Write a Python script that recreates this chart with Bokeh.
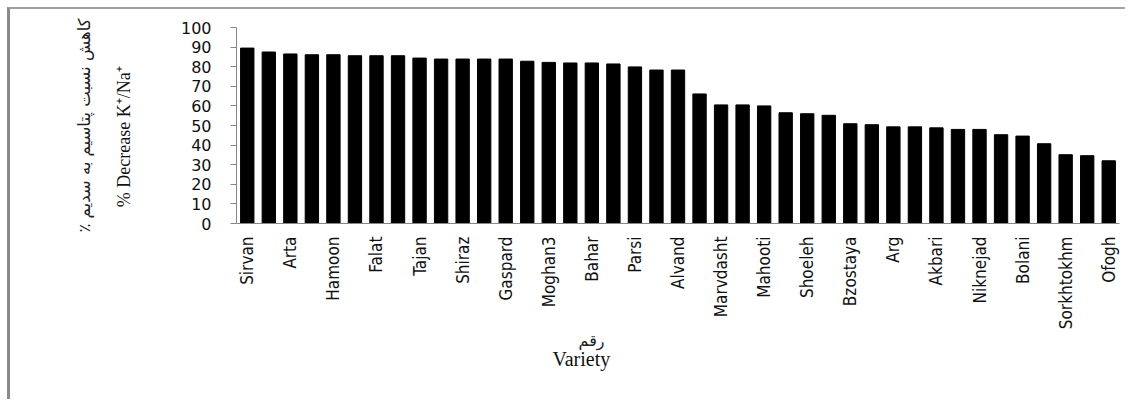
import math
from bokeh.plotting import figure
from bokeh.models import Range1d, FixedTicker, LinearAxis, Title
from bokeh.embed import file_html
from bokeh.resources import INLINE

# ---- data ----
tick_labels = ["Sirvan", "Arta", "Hamoon", "Falat", "Tajan", "Shiraz", "Gaspard",
               "Moghan3", "Bahar", "Parsi", "Alvand", "Marvdasht", "Mahooti",
               "Shoeleh", "Bzostaya", "Arg", "Akbari", "Niknejad", "Bolani",
               "Sorkhtokhm", "Ofogh"]
values = [89.5, 87.5, 86.5, 86.1, 86.1, 85.6, 85.6, 85.6, 84.4, 83.9, 83.9,
          83.9, 83.9, 82.8, 82.2, 81.9, 81.9, 81.4, 79.9, 78.3, 78.3, 66.1,
          60.5, 60.5, 60.0, 56.5, 56.0, 55.2, 50.9, 50.4, 49.3, 49.3, 48.8,
          48.0, 48.0, 45.3, 44.6, 40.7, 35.1, 34.6, 32.0]
y_ticks = [0, 10, 20, 30, 40, 50, 60, 70, 80, 90, 100]
y_title_fa = "کاهش نسبت پتاسیم به سدیم ٪\u200f"
y_title_en = "% Decrease K⁺/Na⁺"
x_title_fa = "رقم"
x_title_en = "Variety"

positions = list(range(len(values)))
label_positions = positions[::2]

p = figure(width=1118, height=392, output_backend="svg", toolbar_location=None,
           x_range=Range1d(-0.5, len(values) - 0.5), y_range=Range1d(0, 100),
           min_border_left=226, min_border_right=9, min_border_top=18,
           min_border_bottom=178)
p.styles = {"margin-left": "7px", "margin-top": "7px",
            "border-left": "3px solid #8a8a8a", "border-top": "2px solid #a0a0a0"}
p.outline_line_color = None
p.xgrid.grid_line_color = None
p.ygrid.grid_line_color = None
p.background_fill_color = "white"
p.border_fill_color = "white"

p.vbar(x=positions, top=values, width=0.62, fill_color="black", line_color="black")

# y axis (English title as its axis label; trailing no-break spaces nudge it down)
ya = p.yaxis[0]
ya.ticker = FixedTicker(ticks=y_ticks)
ya.axis_line_color = "#868686"
ya.major_tick_line_color = "#868686"
ya.major_tick_out = 6
ya.major_tick_in = 0
ya.minor_tick_line_color = None
ya.major_label_standoff = 19
ya.major_label_text_font = "DejaVu Sans"
ya.major_label_text_font_size = "16px"
ya.major_label_text_color = "#111111"
ya.axis_label = y_title_en + "\u00a0" * 5
ya.axis_label_text_font = "Liberation Serif"
ya.axis_label_text_font_size = "18px"
ya.axis_label_text_font_style = "normal"
ya.axis_label_text_color = "#111111"
ya.axis_label_standoff = 44

# second left axis carrying the Persian title only
fa_axis = LinearAxis(ticker=FixedTicker(ticks=[]), axis_line_color=None,
                     major_tick_line_color=None, minor_tick_line_color=None,
                     axis_label=y_title_fa, axis_label_text_font="DejaVu Sans",
                     axis_label_text_font_size="16.5px", axis_label_text_font_style="normal",
                     axis_label_text_color="#222222", axis_label_standoff=17)
p.add_layout(fa_axis, "left")

# x axis
xa = p.xaxis[0]
xa.ticker = FixedTicker(ticks=label_positions)
xa.major_label_overrides = {pos: lab for pos, lab in zip(label_positions, tick_labels)}
xa.axis_line_color = "#868686"
xa.major_tick_line_color = None
xa.minor_tick_line_color = None
xa.major_tick_out = 0
xa.major_tick_in = 0
xa.major_label_standoff = 13
xa.major_label_orientation = math.pi / 2
xa.major_label_text_font = "DejaVu Sans Condensed, Roboto"
xa.major_label_text_font_size = "17px"
xa.major_label_text_color = "#111111"

# x titles below the axis
p.add_layout(Title(text=x_title_fa, align="left", offset=342, standoff=-8,
                   text_font="DejaVu Sans", text_font_size="16px",
                   text_font_style="normal", text_color="#222222"), "below")
p.add_layout(Title(text=x_title_en, align="left", offset=316, standoff=0,
                   text_font="Liberation Serif", text_font_size="20px",
                   text_font_style="normal", text_color="#111111"), "below")

open("out.html", "w").write(file_html(p, INLINE))
